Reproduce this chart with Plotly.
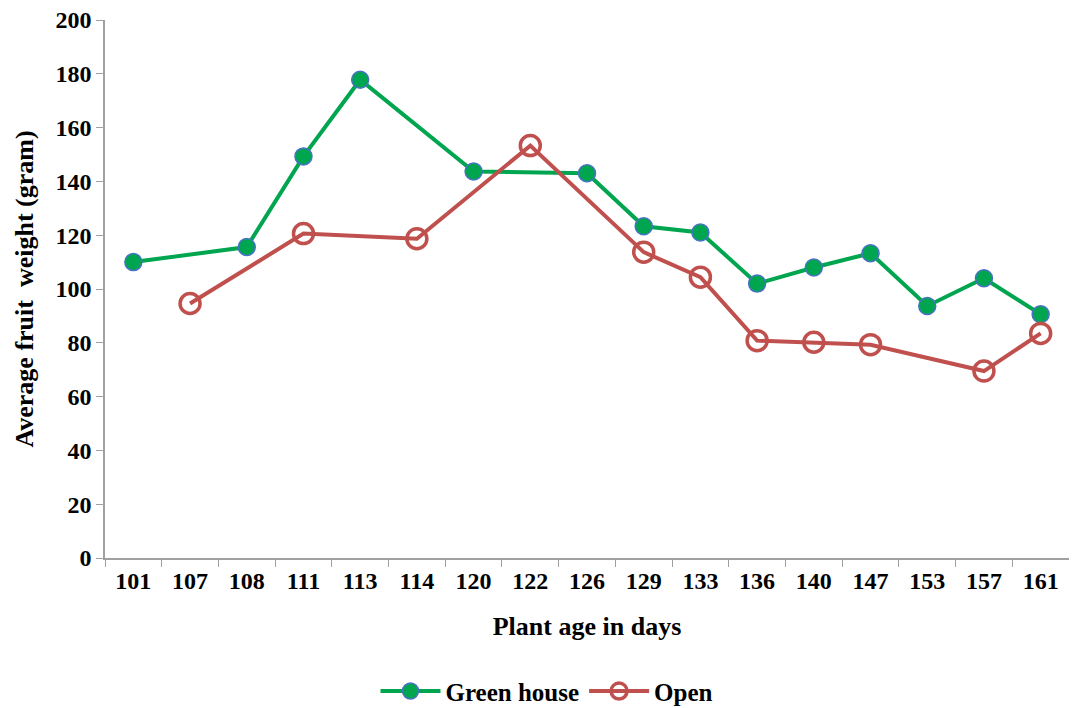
import plotly.graph_objects as go

days = ["101", "107", "108", "111", "113", "114", "120", "122", "126",
        "129", "133", "136", "140", "147", "153", "157", "161"]
green_house = [110, None, 115.6, 149.3, 177.8, None, 143.7, None, 143,
               123.3, 121, 102, 108, 113.3, 93.7, 104, 90.6]
open_field = [None, 94.6, None, 120.6, None, 118.7, None, 153.3, None,
              113.7, 104.4, 80.8, 80.2, 79.3, None, 69.5, 83.5]

FONT = "Liberation Serif"

fig = go.Figure()
fig.add_trace(go.Scatter(
    x=days, y=green_house, name="<b>Green house</b>", mode="lines+markers",
    connectgaps=True,
    line=dict(color="#00A54F", width=4),
    marker=dict(symbol="circle", size=17, color="#00A54F",
                line=dict(color="#4A72C4", width=1.5)),
))
fig.add_trace(go.Scatter(
    x=days, y=open_field, name="<b>Open</b>", mode="lines+markers",
    connectgaps=True,
    line=dict(color="#C0504D", width=4),
    marker=dict(symbol="circle-open", size=20, color="#C0504D",
                line=dict(color="#C0504D", width=3.5)),
))

fig.update_layout(
    width=1061, height=700,
    paper_bgcolor="white", plot_bgcolor="white",
    margin=dict(l=97, r=0, t=12, b=150, autoexpand=False),
    font=dict(family=FONT, size=24, color="black"),
    showlegend=True,
    legend=dict(orientation="h", x=0.4585, xanchor="center", y=-0.205,
                yanchor="top", font=dict(family=FONT, size=25, color="black"),
                itemwidth=60, tracegroupgap=0),
)
fig.update_xaxes(
    type="category", categoryorder="array", categoryarray=days,
    range=[-0.5, 16.5], automargin=False, ticklabeloverflow="allow",
    showline=True, linecolor="#A0A0A0", linewidth=1.5,
    ticks="outside", tickson="boundaries", ticklen=7, tickcolor="#A0A0A0",
    showgrid=False, zeroline=False,
    tickfont=dict(family=FONT, size=24, color="black"),
    title=dict(text="<b>Plant age in days</b>", font=dict(family=FONT, size=26),
               standoff=24),
    tickprefix="<b>", ticksuffix="</b>",
)
fig.update_yaxes(
    range=[0, 200], dtick=20, automargin=False, ticklabeloverflow="allow",
    showline=True, linecolor="#A0A0A0", linewidth=1.5,
    ticks="outside", ticklen=7, tickcolor="#A0A0A0",
    showgrid=False, zeroline=False,
    tickfont=dict(family=FONT, size=24, color="black"),
    tickprefix="<b>", ticksuffix="</b>",
    title=dict(text="<b>Average fruit\u00a0 weight (gram)</b>",
               font=dict(family=FONT, size=26), standoff=14),
)

fig.write_html("out.html")
